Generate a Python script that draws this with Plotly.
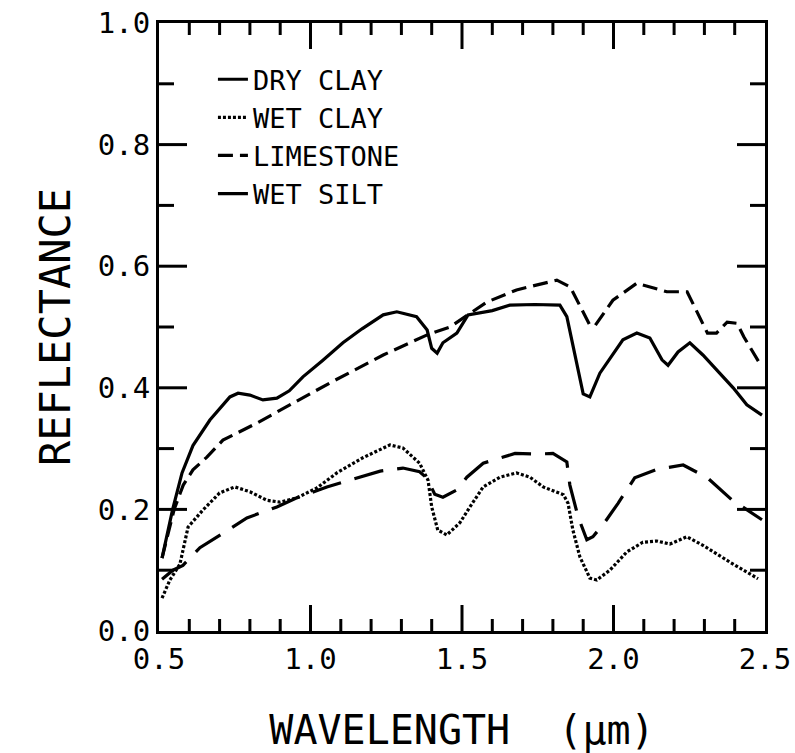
import plotly.graph_objects as go

dry_x = [0.51, 0.545, 0.576, 0.612, 0.668, 0.734, 0.761, 0.80, 0.843, 0.889, 0.93, 0.975, 1.04, 1.107, 1.17, 1.24, 1.285, 1.35, 1.385, 1.40, 1.418, 1.437, 1.483, 1.52, 1.60, 1.658, 1.74, 1.823, 1.846, 1.88, 1.90, 1.922, 1.955, 2.031, 2.077, 2.12, 2.16, 2.18, 2.213, 2.252, 2.295, 2.395, 2.44, 2.49]
dry_y = [0.12, 0.20, 0.26, 0.305, 0.347, 0.385, 0.391, 0.388, 0.38, 0.383, 0.395, 0.418, 0.445, 0.474, 0.497, 0.52, 0.525, 0.517, 0.495, 0.465, 0.457, 0.474, 0.49, 0.52, 0.527, 0.536, 0.537, 0.536, 0.517, 0.44, 0.39, 0.385, 0.424, 0.479, 0.49, 0.482, 0.446, 0.437, 0.459, 0.474, 0.454, 0.40, 0.372, 0.355]

wetclay_x = [0.51, 0.536, 0.569, 0.58, 0.596, 0.645, 0.70, 0.75, 0.80, 0.856, 0.899, 0.955, 1.02, 1.087, 1.173, 1.262, 1.305, 1.36, 1.388, 1.40, 1.42, 1.45, 1.493, 1.526, 1.57, 1.625, 1.68, 1.724, 1.768, 1.835, 1.85, 1.866, 1.889, 1.922, 1.945, 1.988, 2.044, 2.097, 2.143, 2.186, 2.242, 2.295, 2.385, 2.477]
wetclay_y = [0.054, 0.084, 0.11, 0.135, 0.171, 0.199, 0.227, 0.237, 0.229, 0.215, 0.212, 0.219, 0.235, 0.26, 0.285, 0.306, 0.301, 0.276, 0.248, 0.204, 0.166, 0.158, 0.178, 0.204, 0.237, 0.253, 0.26, 0.253, 0.237, 0.224, 0.21, 0.166, 0.122, 0.087, 0.084, 0.10, 0.13, 0.146, 0.148, 0.143, 0.155, 0.141, 0.113, 0.086]

lime_x = [0.51, 0.55, 0.58, 0.612, 0.658, 0.711, 0.823, 0.889, 1.064, 1.24, 1.385, 1.46, 1.582, 1.68, 1.813, 1.857, 1.922, 1.94, 1.998, 2.077, 2.176, 2.243, 2.31, 2.34, 2.375, 2.408, 2.43, 2.49]
lime_y = [0.12, 0.20, 0.24, 0.265, 0.286, 0.314, 0.342, 0.36, 0.408, 0.454, 0.487, 0.50, 0.541, 0.561, 0.577, 0.566, 0.503, 0.503, 0.544, 0.572, 0.558, 0.558, 0.49, 0.49, 0.508, 0.506, 0.484, 0.434]

silt_x = [0.51, 0.546, 0.579, 0.635, 0.728, 0.79, 0.889, 0.955, 1.054, 1.13, 1.23, 1.305, 1.36, 1.385, 1.41, 1.437, 1.483, 1.516, 1.57, 1.675, 1.747, 1.80, 1.846, 1.856, 1.883, 1.912, 1.932, 1.97, 2.015, 2.07, 2.143, 2.23, 2.31, 2.39, 2.49]
silt_y = [0.085, 0.10, 0.108, 0.137, 0.166, 0.186, 0.204, 0.219, 0.237, 0.248, 0.263, 0.268, 0.262, 0.251, 0.225, 0.22, 0.232, 0.253, 0.276, 0.292, 0.291, 0.292, 0.278, 0.24, 0.188, 0.15, 0.155, 0.178, 0.21, 0.252, 0.266, 0.273, 0.252, 0.216, 0.183]

names = ["DRY CLAY", "WET CLAY", "LIMESTONE", "WET SILT"]
dashes = ["solid", "3px,2px", "15px,7px", "30px,14px"]
xs_all = [dry_x, wetclay_x, lime_x, silt_x]
ys_all = [dry_y, wetclay_y, lime_y, silt_y]

# axis tick values
x_major_ticks = [0.5, 1.0, 1.5, 2.0, 2.5]
x_minor_ticks = [0.6, 0.7, 0.8, 0.9, 1.1, 1.2, 1.3, 1.4, 1.6, 1.7, 1.8, 1.9, 2.1, 2.2, 2.3, 2.4]
y_major_ticks = [0.0, 0.2, 0.4, 0.6, 0.8, 1.0]
y_minor_ticks = [0.1, 0.3, 0.5, 0.7, 0.9]

X_RANGE = [0.5, 2.5]
Y_RANGE = [0.0, 1.0]

W, H = 795, 753
M_L, M_R, M_T, M_B = 159, 30, 23, 122

FONT = "DejaVu Sans Mono"

fig = go.Figure()
for name, xs, ys, dash in zip(names, xs_all, ys_all, dashes):
    fig.add_trace(go.Scatter(
        x=xs, y=ys, mode="lines", name=name,
        line=dict(color="black", width=3.2, dash=dash),
    ))

# inward tick marks on all four frame edges, built from the tick value lists
ux = (X_RANGE[1] - X_RANGE[0]) / (W - M_L - M_R)   # x units per pixel
uy = (Y_RANGE[1] - Y_RANGE[0]) / (H - M_T - M_B)   # y units per pixel
tick_x, tick_y = [], []
for v, L in [(v, 26) for v in x_major_ticks[1:-1]] + [(v, 12) for v in x_minor_ticks]:
    tick_x += [v, v, None, v, v, None]
    tick_y += [Y_RANGE[0], Y_RANGE[0] + L * uy, None, Y_RANGE[1], Y_RANGE[1] - L * uy, None]
for v, L in [(v, 28) for v in y_major_ticks[1:-1]] + [(v, 15) for v in y_minor_ticks]:
    tick_x += [X_RANGE[0], X_RANGE[0] + L * ux, None, X_RANGE[1], X_RANGE[1] - L * ux, None]
    tick_y += [v, v, None, v, v, None]
fig.add_trace(go.Scatter(
    x=tick_x, y=tick_y, mode="lines", showlegend=False, hoverinfo="skip",
    line=dict(color="black", width=3),
))

fig.update_layout(
    xaxis=dict(
        range=X_RANGE, tickvals=x_major_ticks, tickformat=".1f", automargin=False,
        showgrid=False, zeroline=False, showline=True, linecolor="black", linewidth=3,
        mirror=True, ticks="",
        tickfont=dict(family=FONT, size=29, color="black"),
        title=dict(text="WAVELENGTH\u00a0\u00a0(\u03bcm)", font=dict(family=FONT, size=40, color="black"), standoff=46),
    ),
    yaxis=dict(
        range=Y_RANGE, tickvals=y_major_ticks, tickformat=".1f", automargin=False,
        showgrid=False, zeroline=False, showline=True, linecolor="black", linewidth=3,
        mirror=True, ticks="",
        tickfont=dict(family=FONT, size=29, color="black"),
        title=dict(text="REFLECTANCE", font=dict(family=FONT, size=42, color="black"), standoff=15),
    ),
    width=W, height=H,
    margin=dict(l=M_L, r=M_R, t=M_T, b=M_B),
    plot_bgcolor="white", paper_bgcolor="white",
    showlegend=True,
    legend=dict(
        x=0.089, y=0.947, xanchor="left", yanchor="top",
        font=dict(family=FONT, size=27, color="black"),
        bgcolor="rgba(0,0,0,0)", borderwidth=0,
    ),
)

fig.write_html("out.html")
